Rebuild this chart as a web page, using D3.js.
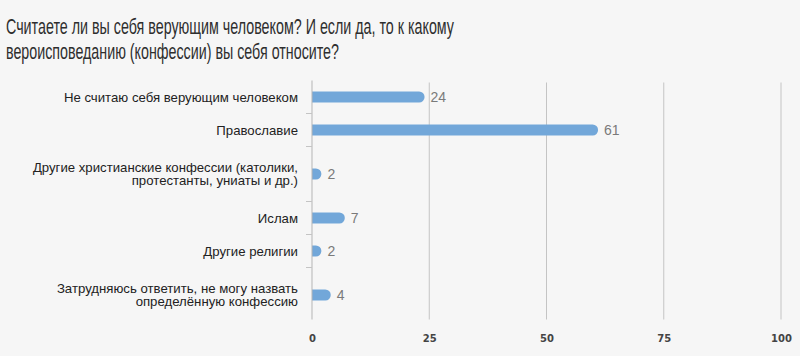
<!DOCTYPE html>
<html><head><meta charset="utf-8">
<script src="https://cdn.jsdelivr.net/npm/d3@7"></script>
<style>
html,body{margin:0;padding:0;background:#f6f6f6;}
svg{display:block;}
</style></head>
<body>
<svg id="c" width="800" height="356"></svg>
<script>
const titleLines = ["Считаете ли вы себя верующим человеком? И если да, то к какому", "вероисповеданию (конфессии) вы себя относите?"];
const categories = [
  ["Не считаю себя верующим человеком"],
  ["Православие"],
  ["Другие христианские конфессии (католики,", "протестанты, униаты и др.)"],
  ["Ислам"],
  ["Другие религии"],
  ["Затрудняюсь ответить, не могу назвать", "определённую конфессию"]
];
const values = [24, 61, 2, 7, 2, 4];
const xTicks = [0, 25, 50, 75, 100];

const svg = d3.select("#c");
const W = 800, H = 356;
const m = {left: 312, right: 19, top: 80.5, bottom: 33};

// title (reference font is condensed; fit each line to its measured width)
const titleWidths = [448, 333];
titleLines.forEach((l, i) => {
  svg.append("text").attr("x", 6).attr("y", 34 + i * 25)
    .attr("font-family", "'Liberation Sans',Arial,sans-serif")
    .attr("font-size", 22.5).attr("fill", "#2e2e2e")
    .attr("textLength", titleWidths[i]).attr("lengthAdjust", "spacingAndGlyphs")
    .text(l);
});

const x = d3.scaleLinear().domain([0, 100]).range([m.left, W - m.right]);

// band heights depend on number of label lines
const baseBand = 33, extraPerLine = 22;
const heights = categories.map(c => baseBand + (c.length - 1) * extraPerLine);
const starts = [];
heights.reduce((acc, h, i) => { starts[i] = acc; return acc + h; }, m.top);
const yBottom = m.top + d3.sum(heights);

const g = svg.append("g");
// gridlines
g.selectAll("line.grid").data(xTicks.slice(1)).join("line")
  .attr("x1", d => x(d)).attr("x2", d => x(d))
  .attr("y1", m.top + 2).attr("y2", yBottom - 3)
  .attr("stroke", "#c4c4c4").attr("stroke-width", 1);

// bars
const barH = 11;
const centers = heights.map((h, i) => starts[i] + h / 2);
g.selectAll("path.bar").data(values).join("path")
  .attr("d", (v, i) => {
    const x0 = x(0), x1 = x(v), cy = centers[i], r = barH / 2;
    const w = x1 - x0;
    const rr = Math.min(r, w);
    return `M${x0},${cy - r} H${x1 - rr} A${rr},${r} 0 0 1 ${x1},${cy} A${rr},${r} 0 0 1 ${x1 - rr},${cy + r} H${x0} Z`;
  })
  .attr("fill", "#72a7d9");

// value labels
g.selectAll("text.val").data(values).join("text")
  .attr("x", v => x(v) + 6).attr("y", (v, i) => centers[i] + 5)
  .attr("font-family", "'Liberation Sans',Arial,sans-serif").attr("font-size", 14)
  .attr("fill", "#7a7a7a").text(v => v);

// axis line
g.append("line").attr("x1", x(0)).attr("x2", x(0)).attr("y1", m.top).attr("y2", yBottom - 3)
  .attr("stroke", "#b5b5b5");
// category separator ticks
g.selectAll("line.sep").data(starts.slice(1)).join("line")
  .attr("x1", x(0) - 6).attr("x2", x(0)).attr("y1", d => d).attr("y2", d => d)
  .attr("stroke", "#c4c4c4");

// category labels
categories.forEach((lines, i) => {
  const lt = g.append("text").attr("text-anchor", "end")
    .attr("font-family", "'Liberation Sans',Arial,sans-serif").attr("font-size", 13.2)
    .attr("fill", "#222");
  const y0 = centers[i] - (lines.length - 1) * 13.5 / 2 + 4.5;
  lines.forEach((l, j) => lt.append("tspan").attr("x", 298).attr("y", y0 + j * 13.5).text(l));
});

// x tick labels
const xa = svg.append("g").attr("transform", `translate(0,${yBottom})`)
  .call(d3.axisBottom(x).tickValues(xTicks).tickSize(0).tickPadding(12));
xa.select(".domain").remove();
xa.selectAll("text").attr("font-family", "'DejaVu Sans','Liberation Sans',sans-serif")
  .attr("font-size", 10).attr("font-weight", "bold").attr("fill", "#444");
</script>
</body></html>
